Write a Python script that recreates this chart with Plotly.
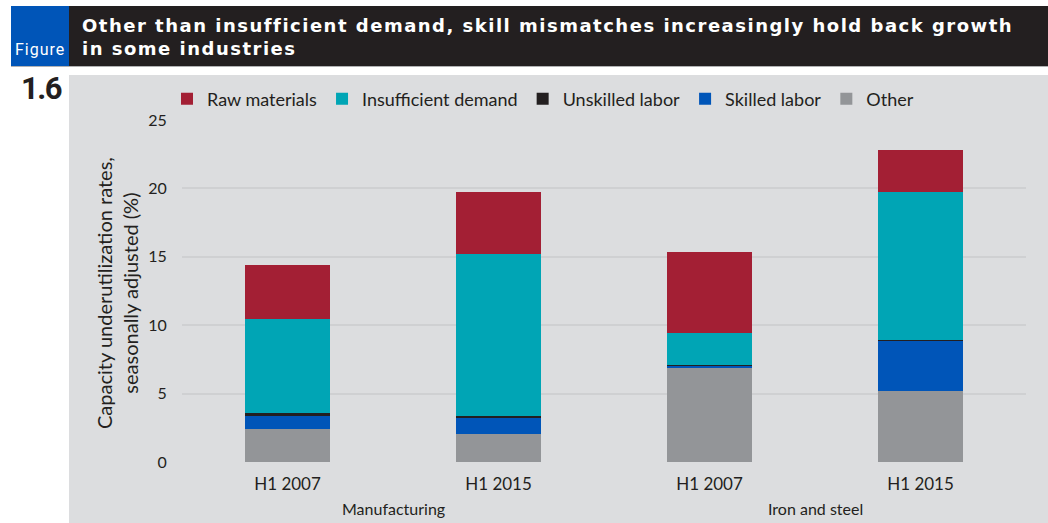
import plotly.graph_objects as go

groups = ["Manufacturing", "Manufacturing", "Iron and steel", "Iron and steel"]
periods = ["H1 2007", "H1 2015", "H1 2007", "H1 2015"]

other = [2.4, 2.05, 6.87, 5.19]
skilled_labor = [0.95, 1.17, 0.15, 3.66]
unskilled_labor = [0.22, 0.14, 0.05, 0.1]
insufficient_demand = [6.87, 11.84, 2.36, 10.8]
raw_materials = [3.95, 4.55, 5.92, 3.06]

series = [
    ("Other", other, "#939598"),
    ("Skilled labor", skilled_labor, "#0055b8"),
    ("Unskilled labor", unskilled_labor, "#231f20"),
    ("Insufficient demand", insufficient_demand, "#00a5b5"),
    ("Raw materials", raw_materials, "#a31f34"),
]

W, H = 1048, 523
PL, PR, PT, PB = 182, 1026, 120, 462


def fx(px):
    return (px - PL) / (PR - PL)


def fy(py):
    return (PB - py) / (PB - PT)


FONT = "Lato"
TXT = "#231f20"

xpos = list(range(len(periods)))

fig = go.Figure()
for name, vals, col in series:
    fig.add_trace(go.Bar(
        x=xpos, y=vals, name=name,
        customdata=[f"{g}, {p}" for g, p in zip(groups, periods)],
        hovertemplate="%{customdata}<br>" + name + ": %{y}<extra></extra>",
        marker=dict(color=col, line=dict(width=0)),
        width=0.403,
    ))

shapes = [
    dict(type="rect", xref="paper", yref="paper", x0=fx(69), x1=fx(1050), y0=fy(75), y1=fy(530),
         fillcolor="#dcdddf", line=dict(width=0), layer="below"),
    dict(type="rect", xref="paper", yref="paper", x0=fx(11), x1=fx(69), y0=fy(6), y1=fy(66),
         fillcolor="#0055b8", line=dict(width=0), layer="below"),
    dict(type="rect", xref="paper", yref="paper", x0=fx(69), x1=fx(1050), y0=fy(6), y1=fy(66),
         fillcolor="#231f20", line=dict(width=0), layer="below"),
    dict(type="line", xref="paper", yref="paper", x0=fx(11), x1=fx(1050), y0=fy(66.5), y1=fy(66.5),
         line=dict(color="#b0b1b3", width=1), layer="below"),
]

title_font = dict(family="DejaVu Sans", size=18, color="white", weight="bold")
annotations = [
    dict(text='<span style="letter-spacing:1.5px">Other than insufficient demand, skill mismatches increasingly hold back growth</span>',
         xref="paper", yref="paper", x=fx(80), y=fy(25), xanchor="left", yanchor="middle",
         showarrow=False, font=title_font),
    dict(text='<span style="letter-spacing:1.5px">in some industries</span>',
         xref="paper", yref="paper", x=fx(80), y=fy(48), xanchor="left", yanchor="middle",
         showarrow=False, font=title_font),
    dict(text='<span style="letter-spacing:1px">Figure</span>', xref="paper", yref="paper",
         x=fx(40), y=fy(50), xanchor="center", yanchor="middle",
         showarrow=False, font=dict(family="Roboto", size=16, color="white")),
    dict(text='<span style="letter-spacing:-1.5px">1.6</span>', xref="paper", yref="paper",
         x=fx(41), y=fy(88), xanchor="center", yanchor="middle",
         showarrow=False, font=dict(family="Roboto", size=31, color=TXT, weight="bold")),
    dict(text="Capacity underutilization rates,<br>seasonally adjusted (%)",
         xref="paper", yref="paper", x=fx(117), y=fy(293), xanchor="center", yanchor="middle",
         textangle=-90, showarrow=False, font=dict(family=FONT, size=20, color=TXT)),
]

# group labels centred under their bars
seen = []
for g in groups:
    if g not in seen:
        seen.append(g)
for g in seen:
    idx = [i for i, gg in enumerate(groups) if gg == g]
    annotations.append(dict(
        text=g, xref="x", yref="paper", x=sum(idx) / len(idx), y=fy(508),
        xanchor="center", yanchor="middle", showarrow=False,
        font=dict(family=FONT, size=16, color=TXT)))

fig.update_layout(
    width=W, height=H,
    margin=dict(l=PL, r=W - PR, t=PT, b=H - PB, pad=0),
    paper_bgcolor="white",
    plot_bgcolor="rgba(0,0,0,0)",
    barmode="stack",
    bargap=0,
    font=dict(family=FONT, color=TXT, size=16),
    showlegend=True,
    legend=dict(orientation="h", x=fx(167), y=fy(99), xanchor="left", yanchor="middle",
                traceorder="reversed", font=dict(family=FONT, size=18, color=TXT),
                bgcolor="rgba(0,0,0,0)", itemwidth=30, itemclick=False),
    shapes=shapes,
    annotations=annotations,
    xaxis=dict(range=[-0.5, 3.5], tickvals=xpos, ticktext=periods,
               showgrid=False, showline=False, zeroline=False,
               ticks="", ticklabelstandoff=10,
               tickfont=dict(family=FONT, size=17, color=TXT)),
    yaxis=dict(range=[0, 25], tickvals=[0, 5, 10, 15, 20, 25], showgrid=True,
               gridcolor="#cfd0d2", gridwidth=2, zeroline=False, showline=False,
               ticks="outside", ticklen=11, tickcolor="rgba(0,0,0,0)",
               tickfont=dict(family=FONT, size=16, color=TXT)),
)

fig.write_html("out.html", config={"displayModeBar": False},
               post_script="document.body.style.margin='0';document.body.style.padding='0';")
